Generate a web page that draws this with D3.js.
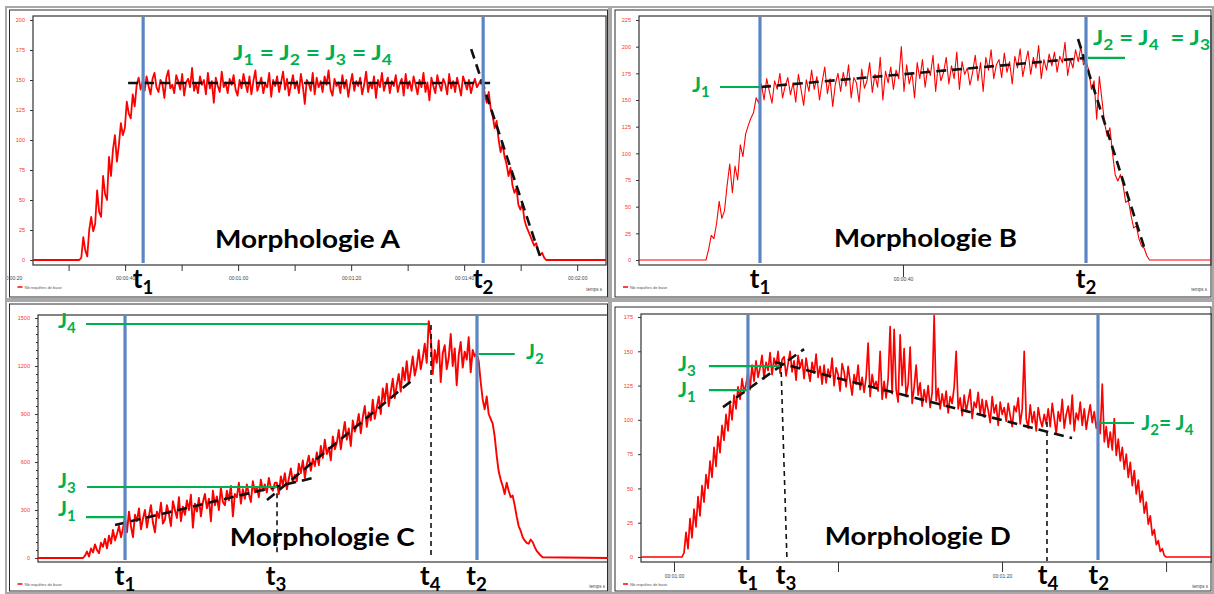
<!DOCTYPE html>
<html><head><meta charset="utf-8">
<script src="https://cdn.jsdelivr.net/npm/d3@7"></script>
<style>body{margin:0;background:#fff}svg{display:block}text{white-space:pre}</style>
</head><body><svg id="c" width="1214" height="594"></svg>
<script>
// ---------------- DATA ----------------
// Panel A (time in s, value)
const A_timeDomain = [23.7, 125.1];
const A_yTicks = [0,25,50,75,100,125,150,175,200];
const A_xTicks = [30,40,50,60,70,80,90,100,110,120];
const A_xLabels = [20,40,60,80,100,120];
const A_signalStart = 31.9, A_signalStep = 0.35;
const A_rise = [0,2,19,8,3,25,36,24,30,58,40,36,70,55,50,86,70,92,104,82,96,114,104,110,132,122,118,138,128,146,152,142];
const A_plateau = [149,141,153,145,138,151,156,144,140,150,147,135,152,158,143,146,139,154,149,142,
155,137,148,151,144,160,141,147,139,153,146,150,138,156,143,149,131,152,145,140,
157,144,148,139,151,146,154,142,137,150,143,155,147,140,153,138,149,158,141,146,
152,139,147,144,156,136,150,145,153,140,148,157,142,151,137,146,154,143,149,139,
155,145,130,150,147,141,156,138,152,144,149,140,153,146,158,142,137,151,145,148,
139,154,143,150,136,147,155,141,149,145,152,138,146,157,140,148,143,153,135,150,
144,156,141,147,152,139,149,145,154,140,147,151,137,155,143,149,141,153,146,138,
150,144,156,140,148,133,152,145,139,154,146,141,151,147,138,155,143,149,140,152,
145,137,153,148,142,150,139,146,151,144,147,150];
const A_fall = [150,138,131,140,126,120,110,116,100,90,97,86,80,70,77,62,56,60,46,42,47,34,28,24,20,16,12,14,8,4,6,2,0,0];
const A_blueTimes = [43.19, 103.36];
const A_tNames = ['1','2'];

// Panel B
const B_timeDomain = [0, 86.67];
const B_yTicks = [0,25,50,75,100,125,150,175,200,225];
const B_xTicks = [40];
const B_xLabels = [40];
const B_signalStart = 10.15, B_signalStep = 0.4;
const B_rise = [0,10,23,20,34,55,39,46,70,90,63,88,75,108,97,118,126,133,138,152,147];
const B_plateau = [165,150,170,158,147,168,160,175,152,163,171,155,166,148,174,160,145,169,158,178,
160,172,150,167,181,156,170,144,165,175,158,176,163,183,152,171,166,148,179,161,
168,185,157,174,162,190,150,177,166,181,160,178,170,200,158,183,165,176,152,185,
170,188,162,180,173,192,158,184,168,176,190,165,182,170,195,160,186,174,180,164,
176,192,168,185,158,190,178,197,170,183,188,171,194,176,186,165,191,180,198,172,
185,196,174,190,180,201,170,188,178,193,182,195,176,191,185,204,173,188,180,197,
186,200,183];
const B_fall = [186,178,160,168,132,172,150,128,116,124,100,80,74,80,70,54,56,42,30,32,20,13,11,4,0];
const B_blueTimes = [18.33, 67.73];
const B_tNames = ['1','2'];

// Panel C
const C_timeDomain = [0, 100];
const C_yTicks = [0,300,600,900,1200,1500];
const C_yMinorStep = 50;
const C_signalStart = 7.88, C_signalStep = 0.35;
const C_rise = [0,15,40,10,60,35,85,50,30,95,70,120,60,140,90,175,110,150,200,130,185];
const C_slow = [250,160,290,200,130,270,230,310,180,245,300,190,265,330,220,160,290,250,345,215,
240,330,275,200,355,300,250,380,230,320,270,360,300,395,190,340,290,375,260,350,
400,310,370,230,420,330,385,300,440,350,330,420,360,450,260,400,380,470,340,430,
370,460,400,350,480,410,445,380,490,420,460,410,500,440,420,470];
const C_steep = [470,400,510,455,530,430,495,560,470,520,480,590,530,610,500,585,640,545,620,575,
660,580,700,625,740,650,690,610,760,680,720,800,680,770,850,740,810,700,860,790,
830,900,780,880,950,820,910,860,990,870,940,1010,900,1060,980,1090,950,1040,1120,1000,
1080,1150,1040,1190,1110,1230,1090,1170,1260,1140,1200,1300,1180,1250,1340,1220,1480];
const C_top = [1390,1150,1300,1220,1360,1100,1280,1330,1180,1250,1400,1200,1310,1080,1270,1350,1190,1290,1240,1380,1160,1300,1260];
const C_fall = [1280,1230,1100,990,930,1010,900,870,840,760,640,540,490,450,400,470,420,380,390,330,260,200,170,130,110,95,90,115,100,70,45,30,15,5];
const C_blueTimes = [15.24, 76.88];
const C_tTimes = [15.24, 41.7, 68.7, 76.8];
const C_tNames = ['1','3','4','2'];

// Panel D
const D_timeDomain = [57.99, 92.8];
const D_yTicks = [0,25,50,75,100,125,150,175];
const D_xTicks = [60,70,80,90];
const D_xLabels = [60,80];
const D_signalStart = 60.49, D_signalStep = 0.122;
const D_rise = [0,3,18,6,28,14,35,22,44,30,52,40,60,50,70,58,80,66,88,76,96,85,104,92,112,100,118,108,124,115,130,120,126];
const D_peak = [135,122,140,128,143,131,138,147,130,142,136,149,133,145,139,150,134,144];
const D_decline = [146,132,141,150,135,143,129,147,138,144,130,145,136,128,142,134,148,131,139,126,
140,127,137,131,145,125,138,133,121,141,135,124,139,128,118,133,126,140,122,131,
120,131,156,117,133,124,128,121,150,115,128,116,130,168,119,166,122,113,162,125,
152,117,126,153,112,124,140,118,127,110,122,113,125,109,120,176,114,123,108,119,
110,121,105,117,112,124,150,108,116,103,118,106,114,122,101,113,109,120,104,115,
102,114,107,98,117,105,111,96,113,104,109,99,112,103,95,110,106,116,97,108,
150,101,94,111,98,106,92,109,100,95,104,97];
const D_hold = [108,95,112,101,90,106,99,115,94,104,110,97,118,92,105,100,113,96,108,93,103,111,98,106,94,101];
const D_fall = [90,126,84,95,80,91,78,101,74,86,70,80,64,75,58,69,52,63,46,56,40,48,32,40,24,30,16,20,9,12,4,6,1,0];
const D_blueTimes = [64.51, 85.85];
const D_tTimes = [64.51, 66.83, 82.8, 85.9];
const D_tNames = ['1','3','4','2'];

// ---------------- CHART ----------------
const GREEN = '#00b050', BLUE = '#5a87c4', RED = '#ff0000';
const svg = d3.select('#c');
const defs = svg.append('defs');

function timeLabel(s){const m=Math.floor(s/60), r=Math.round(s-60*m);return '00:'+String(m).padStart(2,'0')+':'+String(r).padStart(2,'0');}

function rich(g, x, y, str, size, color, anchor, len){
  const t = g.append('text').attr('x',x).attr('y',y).attr('font-size',size)
    .attr('font-family','Lato, "Open Sans", sans-serif').attr('font-weight',700)
    .attr('fill',color).attr('text-anchor',anchor||'start');
  if(len) t.attr('textLength',len).attr('lengthAdjust','spacingAndGlyphs');
  const toks = str.split(/(_\d)/).filter(s=>s.length);
  let down=false;
  toks.forEach(tok=>{
    if(tok[0]==='_'){t.append('tspan').attr('dy',size*0.24).attr('font-size',size*0.72).text(tok[1]);down=true;}
    else{const ts=t.append('tspan').text(tok); if(down){ts.attr('dy',-size*0.24);down=false;}}
  });
  return t;
}

function drawPanel(p, idx){
  const lay = p.layout;
  const g = svg.append('g');
  const cid = 'clipP'+idx, pid='clipPlot'+idx;
  defs.append('clipPath').attr('id',cid).append('rect')
    .attr('x',lay.outer[0]+1).attr('y',lay.outer[1]+1).attr('width',lay.outer[2]-2).attr('height',lay.outer[3]-2);
  defs.append('clipPath').attr('id',pid).append('rect')
    .attr('x',lay.L).attr('y',lay.T).attr('width',lay.R-lay.L).attr('height',lay.B-lay.T);
  g.append('rect').attr('x',lay.outer[0]).attr('y',lay.outer[1]).attr('width',lay.outer[2]).attr('height',lay.outer[3])
    .attr('fill','none').attr('stroke','#a8a8a8').attr('stroke-width',2);
  g.append('rect').attr('x',lay.inner[0]).attr('y',lay.inner[1]).attr('width',lay.inner[2]).attr('height',lay.inner[3])
    .attr('fill','none').attr('stroke','#2a2a2a').attr('stroke-width',1);
  const c = g.append('g').attr('clip-path','url(#'+cid+')');

  const x = d3.scaleLinear().domain(p.xDomain).range([lay.L, lay.R]);
  const y = d3.scaleLinear().domain(p.yDomain).range([lay.y0, lay.y1]);

  c.append('rect').attr('x',lay.L).attr('y',lay.T).attr('width',lay.R-lay.L).attr('height',lay.B-lay.T)
    .attr('fill','none').attr('stroke','#333').attr('stroke-width',1.2);

  // y axis
  const ya = c.append('g').attr('transform','translate('+lay.L+',0)')
    .call(d3.axisLeft(y).tickValues(p.yTicks).tickSize(3).tickPadding(5).tickFormat(d3.format('d')));
  ya.select('.domain').remove();
  ya.selectAll('line').attr('stroke','#333');
  ya.selectAll('text').attr('fill','#ff3030').attr('font-size',5.5).attr('font-family','"Liberation Sans", Arial, sans-serif');
  if(p.yMinor){
    const ym = c.append('g').attr('transform','translate('+lay.L+',0)')
      .call(d3.axisLeft(y).tickValues(p.yMinor).tickSize(2).tickFormat(''));
    ym.select('.domain').remove();
    ym.selectAll('line').attr('stroke','#333');
  }
  // x axis
  if(p.xTicks){
    const xa = c.append('g').attr('transform','translate(0,'+lay.B+')')
      .call(d3.axisBottom(x).tickValues(p.xTicks).tickSize(lay.xTickLen).tickFormat(''));
    xa.select('.domain').remove();
    xa.selectAll('line').attr('stroke','#333');
    const xl = c.append('g').attr('transform','translate(0,'+(lay.B+lay.xLabelDy)+')')
      .call(d3.axisBottom(x).tickValues(p.xLabels).tickSize(0).tickPadding(0).tickFormat(timeLabel));
    xl.select('.domain').remove();
    xl.selectAll('text').attr('fill','#444').attr('font-size',5).attr('font-family','"Liberation Sans", Arial, sans-serif').attr('dy','0');
  }
  // legend + axis title
  c.append('line').attr('x1',lay.inner[0]+8).attr('x2',lay.inner[0]+13).attr('y1',lay.B+22).attr('y2',lay.B+22)
    .attr('stroke',RED).attr('stroke-width',1.5);
  c.append('text').attr('x',lay.inner[0]+15).attr('y',lay.B+23.5).attr('font-size',4).attr('fill','#555')
    .attr('font-family','"Liberation Sans", Arial, sans-serif').text('Nb requêtes de base');
  c.append('text').attr('x',lay.R-4).attr('y',lay.B+26).attr('text-anchor','end').attr('font-size',4.5).attr('fill','#444')
    .attr('font-family','"Liberation Sans", Arial, sans-serif').text('temps s');

  // signal
  const pts = [[p.xDomain[0],0]];
  p.signal.forEach((v,i)=>pts.push([p.start+i*p.step, v]));
  pts.push([p.xDomain[1],0]);
  const line = d3.line().x(d=>x(d[0])).y(d=>y(d[1]));
  c.append('path').attr('clip-path','url(#'+pid+')').attr('d',line(pts)).attr('fill','none')
    .attr('stroke',RED).attr('stroke-width',p.lineWidth).attr('stroke-linejoin','round');

  // dashed fit lines
  (p.dashes||[]).forEach(d=>c.append('path').attr('d',line(d)).attr('fill','none').attr('stroke','#111')
    .attr('stroke-width',2.6).attr('stroke-dasharray','10,6'));
  (p.thinDashes||[]).forEach(d=>c.append('path').attr('d',line(d)).attr('fill','none').attr('stroke','#111')
    .attr('stroke-width',1.6).attr('stroke-dasharray','5,4'));
  // blue event lines
  p.blue.forEach(t=>c.append('line').attr('x1',x(t)).attr('x2',x(t)).attr('y1',lay.T+1).attr('y2',lay.B-2)
    .attr('stroke',BLUE).attr('stroke-width',3.2));
  // green level lines
  (p.greens||[]).forEach(d=>c.append('path').attr('d',line(d)).attr('fill','none').attr('stroke',GREEN).attr('stroke-width',2.2));
  // green labels
  (p.jLabels||[]).forEach(l=>rich(c, x(l.t), y(l.v), l.s, l.size||21, GREEN, l.anchor, l.len));
  // morphologie
  rich(c, x(p.title.t), y(p.title.v), p.title.s, 25, '#000', 'start', p.title.len);
  // t labels
  p.tTimes.forEach((t,i)=>rich(c, x(t), lay.B+lay.tDy, 't_'+p.tNames[i], 26, '#000', 'middle'));
}

const panels = [
 {layout:{outer:[6,7,603,292], inner:[9.5,10,598,287], L:33, R:606, T:16, B:265, y0:260, y1:20, xTickLen:6, xLabelDy:15, tDy:23},
  xDomain:A_timeDomain, yDomain:[0,200], yTicks:A_yTicks, xTicks:A_xTicks, xLabels:A_xLabels,
  signal:A_rise.concat(A_plateau, A_fall), start:A_signalStart, step:A_signalStep, lineWidth:1.8,
  dashes:[[[40.53,147.5],[105.31,147.5]], [[101.24,175.8],[113.63,0]]],
  blue:A_blueTimes, tTimes:A_blueTimes, tNames:A_tNames,
  jLabels:[{t:59.1, v:166.7, s:'J_1 = J_2 = J_3 = J_4', len:159}],
  title:{t:55.9, v:10, s:'Morphologie A', len:185}},
 {layout:{outer:[611,7,602,292], inner:[615,10,596,287], L:639, R:1211, T:16, B:265, y0:260, y1:20, xTickLen:12, xLabelDy:16, tDy:23},
  xDomain:B_timeDomain, yDomain:[0,225], yTicks:B_yTicks, xTicks:B_xTicks, xLabels:B_xLabels,
  signal:B_rise.concat(B_plateau, B_fall), start:B_signalStart, step:B_signalStep, lineWidth:1.1,
  dashes:[[[18.48,162.2],[67.58,189.4]], [[66.52,207.2],[76.67,9.4]]],
  greens:[[[12.27,162.2],[18.33,162.2]], [[68.03,189.4],[73.64,189.4]]],
  blue:B_blueTimes, tTimes:B_blueTimes, tNames:B_tNames,
  jLabels:[{t:8.03, v:157.5, s:'J_1'}, {t:68.79, v:201.6, s:'J_2 = J_4  = J_3', len:117}],
  title:{t:29.55, v:12.2, s:'Morphologie B', len:183}},
 {layout:{outer:[6,301,603,292], inner:[9.5,304,598,287], L:38, R:609, T:315, B:562, y0:558, y1:318, tDy:23},
  xDomain:C_timeDomain, yDomain:[0,1500], yTicks:C_yTicks,
  yMinor:d3.range(0,1501,C_yMinorStep).filter(v=>!C_yTicks.includes(v)),
  signal:C_rise.concat(C_slow, C_steep, C_top, C_fall), start:C_signalStart, step:C_signalStep, lineWidth:1.9,
  dashes:[[[13.49,206],[48.16,500]], [[40.1,362.5],[66.02,1125]]],
  thinDashes:[[[41.86,405],[41.86,15]], [[68.83,1456],[68.83,6]]],
  greens:[[[8.41,1462.5],[68.3,1462.5]], [[8.58,443.75],[41.86,443.75]], [[8.41,256],[15.24,256]], [[77.2,1275],[83.5,1275]]],
  blue:C_blueTimes, tTimes:C_tTimes, tNames:C_tNames,
  jLabels:[{t:3.5, v:1437, s:'J_4'}, {t:3.5, v:437.5, s:'J_3'}, {t:3.5, v:262, s:'J_1'}, {t:85.46, v:1244, s:'J_2'}],
  title:{t:33.6, v:75, s:'Morphologie C', len:185}},
 {layout:{outer:[611,301,602,292], inner:[615,307,596,284], L:641, R:1212, T:314, B:562, y0:557, y1:317, xTickLen:10, xLabelDy:16, tDy:22},
  xDomain:D_timeDomain, yDomain:[0,175], yTicks:D_yTicks, xTicks:D_xTicks, xLabels:D_xLabels,
  signal:D_rise.concat(D_peak, D_decline, D_hold, D_fall), start:D_signalStart, step:D_signalStep, lineWidth:1.7,
  dashes:[[[62.99,109.3],[67.93,151.6]], [[66.16,142.1],[84.27,86.7]]],
  thinDashes:[[[66.52,141.4],[66.89,-3]], [[82.74,98.4],[82.74,-3]]],
  greens:[[[62.13,139.2],[66.46,139.2]], [[62.13,121.7],[64.45,121.7]], [[85.98,97.7],[88.05,97.7]]],
  blue:D_blueTimes, tTimes:D_tTimes, tNames:D_tNames,
  jLabels:[{t:60.24, v:135.6, s:'J_3'}, {t:60.24, v:116.6, s:'J_1'}, {t:88.48, v:92.6, s:'J_2= J_4'}],
  title:{t:69.2, v:8.7, s:'Morphologie D', len:186}}
];
panels.forEach(drawPanel);
</script></body></html>
